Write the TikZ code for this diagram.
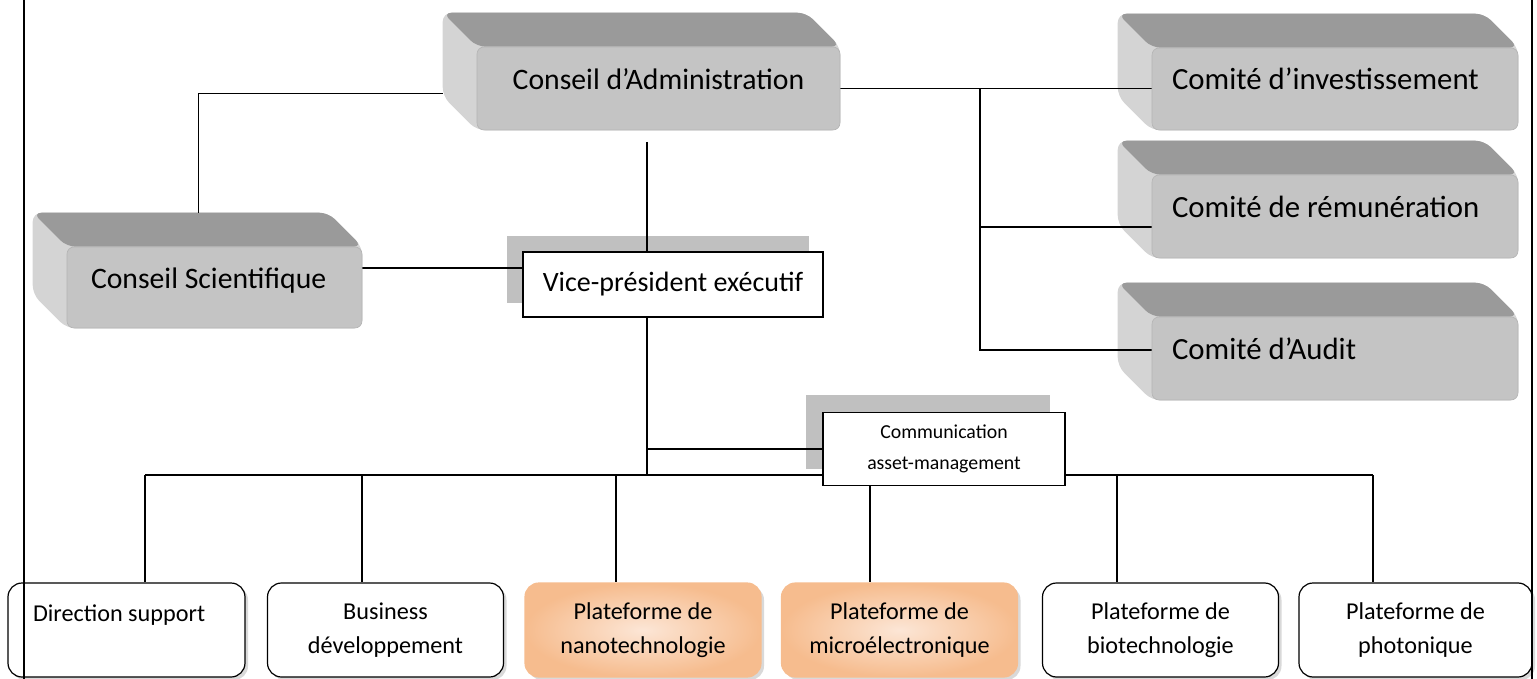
\documentclass[tikz,border=0pt]{standalone}
\usepackage{fontspec}
\setmainfont{Carlito}
\usetikzlibrary{backgrounds,shadows}

\definecolor{faceGray}{RGB}{196,196,196}
\definecolor{topGray}{RGB}{154,154,154}
\definecolor{sideGray}{RGB}{212,212,212}
\definecolor{tabGray}{RGB}{192,192,192}
\definecolor{peachIn}{RGB}{252,230,214}
\definecolor{peachOut}{RGB}{246,188,142}

\begin{document}
\begin{tikzpicture}[
    x=1pt, y=-1pt,
    slab/.style={draw=faceGray!92!black, line width=0.6pt, fill=faceGray, rounded corners=7pt, inner sep=0pt, text height=0.7em, text depth=0.55em, font=\fontsize{29.7}{36}\selectfont},
    tabbox/.style={draw, line width=1.2pt, fill=white, inner sep=0pt, align=center},
    unitbox/.style={draw, line width=1.2pt, fill=white, rounded corners=14pt, minimum width=236pt, minimum height=94pt, inner sep=0pt, align=center, font=\fontsize{24.2}{34}\selectfont, drop shadow={shadow xshift=3pt, shadow yshift=-3pt, opacity=0.3}},
    peach/.style={unitbox, draw=peachOut, inner color=peachIn, outer color=peachOut},
    link/.style={line width=1.3pt}
]
\useasboundingbox (0,0) rectangle (1537,679);

% board, council and committees
\node[slab, minimum width=363pt, minimum height=83pt] (ca) at (658.5,88.5) {Conseil d’Administration};
\node[slab, minimum width=295pt, minimum height=81pt] (cs) at (214.5,287.5) {\makebox[247pt][l]{Conseil Scientifique}};
\node[slab, minimum width=366pt, minimum height=82pt, font=\fontsize{30.8}{37}\selectfont] (ci) at (1335,89) {\makebox[326pt][l]{Comité d’investissement}};
\node[slab, minimum width=366pt, minimum height=83pt, font=\fontsize{30.8}{37}\selectfont] (cr) at (1335,216.5) {\makebox[326pt][l]{Comité de rémunération}};
\node[slab, minimum width=366pt, minimum height=83pt, font=\fontsize{30.8}{37}\selectfont] (cau) at (1335,358.5) {\makebox[326pt][l]{Comité d’Audit}};

% executive level
\node[tabbox, minimum width=300pt, minimum height=65pt, font=\fontsize{28}{33}\selectfont] (vp) at (673,284.5) {Vice-président exécutif};
\node[tabbox, minimum width=242pt, minimum height=73pt, font=\fontsize{19.8}{31}\selectfont] (comm) at (944,449) {Communication\\asset-management};

% departments and platforms
\node[unitbox, minimum width=237pt] (ds) at (126.5,630) {\makebox[187pt][l]{Direction support}\\\mbox{}};
\node[unitbox] (bd) at (385.5,630) {Business\\développement};
\node[peach] (nano) at (643,630) {Plateforme de\\nanotechnologie};
\node[peach] (micro) at (899.5,630) {Plateforme de\\microélectronique};
\node[unitbox] (bio) at (1160.5,630) {Plateforme de\\biotechnologie};
\node[unitbox, minimum width=233pt] (photo) at (1415.5,630) {Plateforme de\\photonique};

\begin{scope}[on background layer]
% bevels and tab shadows
\foreach \n in {ca,cs,ci,cr,cau}{
  \fill[sideGray, rounded corners=9pt] ([shift={(-34,-34)}]\n.north west) -- ([shift={(-34,-34)}]\n.north east) -- (\n.north east) -- (\n.south east) -- (\n.south west) -- ([shift={(-34,-34)}]\n.south west) -- cycle;
  \fill[topGray, rounded corners=9pt] ([shift={(-34,-34)}]\n.north west) -- ([shift={(-34,-34)}]\n.north east) -- (\n.north east) -- (\n.north west) -- cycle;
}
\fill[tabGray] ([shift={(-15,-15)}]vp.south west) rectangle ([shift={(-15,-15)}]vp.north east);
\fill[tabGray] ([shift={(-16,-17)}]comm.south west) rectangle ([shift={(-16,-17)}]comm.north east);

% connectors
\draw[link] ([shift={(-34,5)}]ca.west) -| ([shift={(-16,-34)}]cs.north);
\draw[link] (ca.east) -- (ca.east -| ci.west);
\coordinate (spinetop) at (980,88.5);
\coordinate (spinemid) at (980,227);
\coordinate (spinebot) at (980,350);
\draw[link] (spinetop) -- (spinebot) -- (spinebot -| cau.west);
\draw[link] (spinemid) -- (spinemid -| cr.west);

\coordinate (cadrop) at (647,142);
\draw[link] (cadrop) -- (cadrop |- vp.north);
\coordinate (csjoin) at (362,268);
\draw[link] (csjoin) -- (csjoin -| vp.west);
\coordinate (trunk) at (647,475);
\draw[link] (trunk |- vp.south) -- (trunk);
\draw[link] (trunk |- comm.west) -- (comm.west);

\foreach \b/\x in {ds/145, bd/362, nano/616, micro/870, bio/1117, photo/1373}{
  \coordinate (bus-\b) at (\x,475);
  \draw[link] (bus-\b) -- (bus-\b |- \b.north);
}
\draw[link] (bus-ds) -- (bus-photo);
\end{scope}

% page margins
\draw[line width=1.2pt] (24,0) -- (24,679);
\draw[line width=1.2pt] (1532,0) -- (1532,679);
\end{tikzpicture}
\end{document}
